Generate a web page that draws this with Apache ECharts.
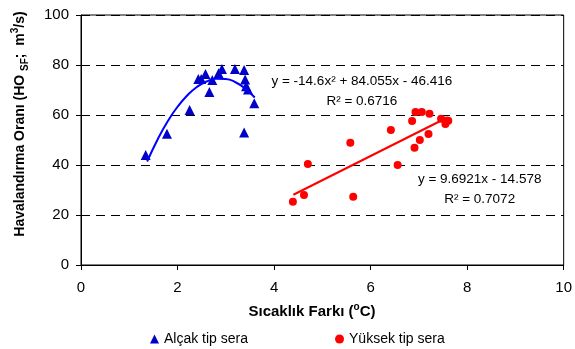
<!DOCTYPE html>
<html>
<head>
<meta charset="utf-8">
<script src="https://cdn.jsdelivr.net/npm/echarts@6/dist/echarts.min.js"></script>
<style>
  html, body { margin: 0; padding: 0; background: #fff; }
  #main { width: 575px; height: 349px; }
</style>
</head>
<body>
<div id="main"></div>
<script>
// Alcak tip sera (triangles)
var lowX = [1.34, 1.78, 2.25, 2.43, 2.49, 2.58, 2.66, 2.72, 2.85, 2.92, 3.19, 3.38, 3.40, 3.42, 3.46, 3.59, 3.38];
var lowY = [44, 52.5, 62, 74.4, 74.4, 76.4, 69.2, 74, 76.7, 78.4, 78.4, 78, 74.2, 71.5, 70.2, 64.7, 53];
// Yuksek tip sera (circles)
var highX = [4.39, 4.62, 4.70, 5.58, 5.64, 6.42, 6.56, 6.86, 6.91, 6.93, 7.06, 7.02, 7.20, 7.22, 7.46, 7.56, 7.61, 7.55];
var highY = [25.3, 28, 40.4, 48.9, 27.3, 54, 40, 57.6, 46.9, 61.2, 61.2, 50, 52.4, 60.5, 58.5, 57.7, 57.7, 56.4];
// trendlines
var curveX = [1.37, 1.6, 1.8, 2.0, 2.2, 2.4, 2.6, 2.8, 3.0, 3.2, 3.4, 3.6];
var curveY = [41.4, 50.7, 57.6, 63.3, 67.8, 71.2, 73.4, 74.5, 74.4, 73.1, 70.6, 67.0];
var lineX = [4.4, 7.6];
var lineY = [28.1, 59.1];
var xTicks = [0, 10, 2];
var yTicks = [0, 100, 20];

function pairs(xs, ys) {
  return xs.map(function (x, i) { return [x, ys[i]]; });
}

var myChart = echarts.init(document.getElementById('main'));
var font = 'Liberation Sans, Arial, sans-serif';

option = {
  backgroundColor: '#fff',
  animation: false,
  textStyle: { fontFamily: font },
  grid: { left: 81, right: 9, top: 15, bottom: 84, show: true, borderColor: '#000', borderWidth: 1 },
  xAxis: {
    type: 'value', min: xTicks[0], max: xTicks[1], interval: xTicks[2],
    axisLine: { lineStyle: { color: '#000', width: 1 } },
    axisTick: { show: true, length: 5, lineStyle: { color: '#000' } },
    axisLabel: { color: '#000', fontSize: 15, margin: 15, fontFamily: font },
    splitLine: { show: false }
  },
  yAxis: {
    type: 'value', min: yTicks[0], max: yTicks[1], interval: yTicks[2],
    axisLine: { show: true, lineStyle: { color: '#000', width: 1 } },
    axisTick: { show: true, length: 5, lineStyle: { color: '#000' } },
    axisLabel: { color: '#000', fontSize: 15, margin: 12, fontFamily: font },
    splitLine: { show: true, lineStyle: { color: '#000', type: [9, 6], width: 1 } }
  },
  legend: {
    left: 145, top: 327, itemWidth: 9, itemHeight: 9, itemGap: 87,
    textStyle: { color: '#000', fontSize: 14, fontFamily: font },
    data: [
      { name: 'Alçak tip sera', icon: 'triangle' },
      { name: 'Yüksek tip sera', icon: 'circle' }
    ]
  },
  graphic: [
    {
      type: 'text', x: 20, y: 124, rotation: Math.PI / 2,
      style: {
        text: '{a|Havalandırma Oranı (HO }{sub|SF}{a|;  m}{sup|3}{a|/s)}',
        align: 'center', verticalAlign: 'middle',
        rich: {
          a: { fontSize: 14, fontWeight: 'bold', fontFamily: font, fill: '#000', lineHeight: 20, verticalAlign: 'middle' },
          sub: { fontSize: 10, fontWeight: 'bold', fontFamily: font, fill: '#000', lineHeight: 20, verticalAlign: 'bottom' },
          sup: { fontSize: 10, fontWeight: 'bold', fontFamily: font, fill: '#000', lineHeight: 20, verticalAlign: 'top' }
        }
      }
    },
    {
      type: 'text', x: 312, y: 312,
      style: {
        text: '{a|Sıcaklık Farkı (}{sup|o}{a|C)}',
        align: 'center', verticalAlign: 'middle',
        rich: {
          a: { fontSize: 15, fontWeight: 'bold', fontFamily: font, fill: '#000', lineHeight: 20, verticalAlign: 'middle' },
          sup: { fontSize: 10, fontWeight: 'bold', fontFamily: font, fill: '#000', lineHeight: 20, verticalAlign: 'top' }
        }
      }
    }
  ],
  series: [
    {
      name: 'Alçak tip sera', type: 'scatter', symbol: 'triangle', symbolSize: 10,
      itemStyle: { color: '#0000C8', opacity: 1 }, z: 3,
      data: pairs(lowX, lowY)
    },
    {
      name: 'Yüksek tip sera', type: 'scatter', symbol: 'circle', symbolSize: 8,
      itemStyle: { color: '#FF0000', opacity: 1 }, z: 3,
      data: pairs(highX, highY)
    },
    {
      name: 'poly', type: 'line', smooth: true, showSymbol: false, symbol: 'none',
      lineStyle: { color: '#0000FF', width: 2 }, z: 4,
      data: pairs(curveX, curveY),
      markPoint: {
        symbol: 'circle', symbolSize: 0,
        label: {
          show: true, position: 'inside', color: '#000', fontSize: 13.5, lineHeight: 20,
          align: 'center', fontFamily: font,
          formatter: 'y = -14.6x² + 84.055x - 46.416\nR² = 0.6716'
        },
        data: [{ coord: [5.82, 69.6] }]
      }
    },
    {
      name: 'lin', type: 'line', showSymbol: false, symbol: 'none',
      lineStyle: { color: '#FF0000', width: 2 }, z: 4,
      data: pairs(lineX, lineY),
      markPoint: {
        symbol: 'circle', symbolSize: 0,
        label: {
          show: true, position: 'inside', color: '#000', fontSize: 13.5, lineHeight: 20,
          align: 'center', fontFamily: font,
          formatter: 'y = 9.6921x - 14.578\nR² = 0.7072'
        },
        data: [{ coord: [8.26, 30.4] }]
      }
    }
  ]
};

myChart.setOption(option);
</script>
</body>
</html>
